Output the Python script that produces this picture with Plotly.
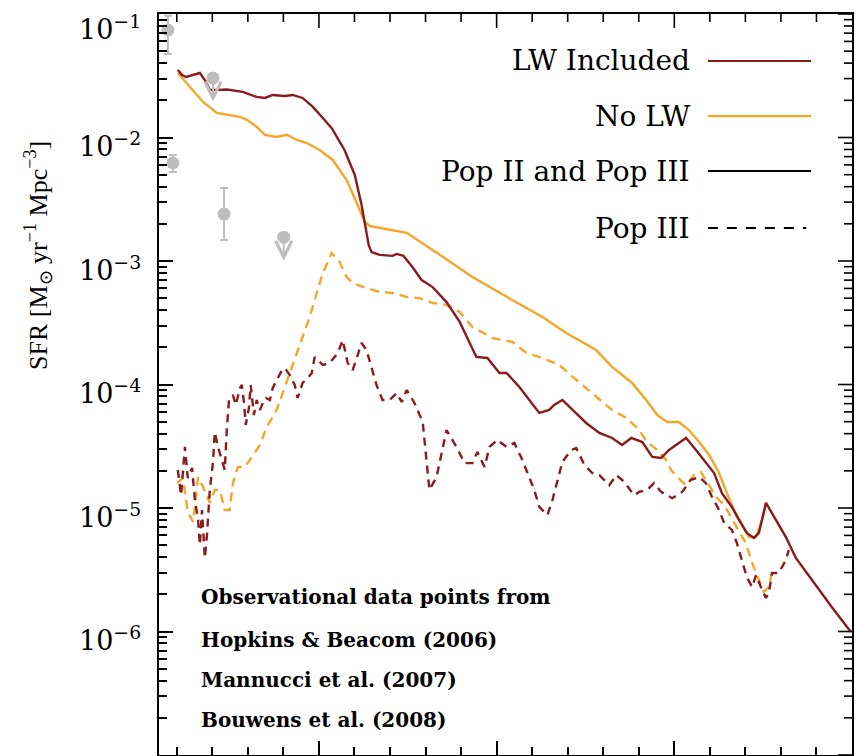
import math
import plotly.graph_objects as go

# ---------------- data ----------------
# Total SFR (Pop II + Pop III), LW feedback included
z_lw = [6.03, 6.15, 6.26, 6.37, 6.57, 6.65, 6.79, 6.93, 7.16, 7.41, 7.86, 8.25, 8.48, 8.70,
        9.04, 9.26, 9.54, 9.83, 10.11, 10.36, 10.72, 11.01, 11.20, 11.31, 11.40, 11.48, 11.71,
        12.07, 12.19, 12.38, 12.63, 12.89, 13.20, 13.59, 13.96, 14.43, 14.74, 15.08, 15.28,
        15.64, 15.92, 16.20, 16.48, 16.62, 16.85, 17.13, 17.52, 17.89, 18.25, 18.53, 18.79,
        19.10, 19.38, 19.63, 19.85, 20.13, 20.33, 20.61, 20.89, 21.12, 21.34, 21.62, 21.82,
        22.04, 22.24, 22.38, 22.58, 22.75, 23.14, 23.42, 23.87, 24.43, 24.97]
sfr_lw = [3.52e-2, 3.21e-2, 3.09e-2, 3.15e-2, 3.27e-2, 3.33e-2, 2.92e-2, 2.43e-2, 2.43e-2,
          2.45e-2, 2.34e-2, 2.13e-2, 2.09e-2, 2.21e-2, 2.17e-2, 2.21e-2, 2.09e-2, 1.77e-2,
          1.44e-2, 1.19e-2, 7.93e-3, 4.97e-3, 2.84e-3, 1.95e-3, 1.35e-3, 1.18e-3, 1.12e-3,
          1.10e-3, 1.14e-3, 1.10e-3, 8.93e-4, 7.01e-4, 6.15e-4, 4.65e-4, 3.21e-4, 1.67e-4,
          1.64e-4, 1.24e-4, 1.24e-4, 9.55e-5, 7.49e-5, 5.88e-5, 6.22e-5, 6.83e-5, 7.49e-5,
          6.22e-5, 4.88e-5, 4.05e-5, 3.69e-5, 3.24e-5, 3.69e-5, 3.42e-5, 2.59e-5, 2.54e-5,
          2.95e-5, 3.36e-5, 3.69e-5, 2.95e-5, 2.31e-5, 1.92e-5, 1.32e-5, 1.02e-5, 8.0e-6,
          6.28e-6, 5.72e-6, 6.28e-6, 1.10e-5, 9.12e-6, 5.82e-6, 3.94e-6, 2.61e-6, 1.58e-6,
          9.9e-7]

# Total SFR without LW feedback
z_nolw = [6.03, 6.37, 6.74, 7.13, 7.49, 7.78, 7.97, 8.25, 8.48, 8.81, 9.10, 9.38, 9.66,
          10.02, 10.39, 10.78, 11.09, 11.29, 11.43, 11.62, 12.47, 13.20, 14.32, 15.44, 16.29,
          16.96, 17.80, 18.25, 18.81, 19.21, 19.52, 19.80, 20.13, 20.41, 20.70, 20.98, 21.26,
          21.48, 21.68, 21.88, 22.10, 22.30, 22.47, 22.58]
sfr_nolw = [3.33e-2, 2.57e-2, 1.94e-2, 1.58e-2, 1.52e-2, 1.47e-2, 1.39e-2, 1.22e-2, 1.05e-2,
            1.01e-2, 1.05e-2, 9.55e-3, 9.02e-3, 7.93e-3, 6.58e-3, 4.53e-3, 2.84e-3, 2.07e-3,
            1.92e-3, 1.88e-3, 1.69e-3, 1.23e-3, 7.42e-4, 4.83e-4, 3.52e-4, 2.61e-4, 1.90e-4,
            1.39e-4, 1.03e-4, 7.49e-5, 5.66e-5, 4.97e-5, 4.97e-5, 4.28e-5, 3.42e-5, 2.69e-5,
            1.92e-5, 1.32e-5, 9.64e-6, 7.57e-6, 5.82e-6, 5.82e-6, 8.0e-6, 1.10e-5]

# Pop III SFR without LW feedback
z_p3_nolw = [6.01, 6.17, 6.31, 6.46, 6.60, 6.74, 6.93, 7.07, 7.21, 7.35, 7.49, 7.58, 7.72,
             7.92, 8.11, 8.34, 8.53, 8.81, 8.98, 9.18, 9.38, 9.54, 9.74, 9.94, 10.11, 10.36,
             10.58, 10.78, 10.95, 11.34, 11.71, 12.07, 12.47, 12.83, 13.20, 13.59, 13.96,
             14.32, 14.88, 15.44, 15.84, 16.29, 16.76, 17.24, 17.80, 18.25, 18.65, 18.96,
             19.24, 19.52, 19.77, 19.91, 20.08, 20.33, 20.56, 20.75, 20.98, 21.17, 21.40,
             21.60, 21.82, 22.01, 22.19, 22.38, 22.52, 22.66, 22.75]
sfr_p3_nolw = [1.59e-5, 1.75e-5, 9.29e-6, 7.71e-6, 1.78e-5, 1.48e-5, 1.10e-5, 1.40e-5,
               1.40e-5, 9.64e-6, 9.64e-6, 1.59e-5, 2.15e-5, 2.15e-5, 2.59e-5, 3.24e-5,
               4.53e-5, 6.22e-5, 8.53e-5, 1.24e-4, 1.80e-4, 2.38e-4, 3.52e-4, 5.51e-4,
               8.0e-4, 1.16e-3, 9.82e-4, 7.42e-4, 6.63e-4, 6.04e-4, 5.61e-4, 5.51e-4,
               5.12e-4, 5.01e-4, 4.57e-4, 4.41e-4, 3.87e-4, 2.92e-4, 2.38e-4, 2.21e-4,
               1.80e-4, 1.64e-4, 1.44e-4, 1.09e-4, 7.92e-5, 6.22e-5, 5.36e-5, 4.45e-5,
               3.42e-5, 2.95e-5, 2.45e-5, 2.03e-5, 1.78e-5, 1.53e-5, 1.85e-5, 1.95e-5,
               1.53e-5, 1.23e-5, 1.06e-5, 8.45e-6, 6.64e-6, 5.21e-6, 3.59e-6, 2.61e-6,
               2.09e-6, 2.29e-6, 3.03e-6]

# Pop III SFR with LW feedback
z_p3_lw = [6.03, 6.12, 6.23, 6.31, 6.43, 6.51, 6.60, 6.65, 6.71, 6.79, 6.85, 6.93, 7.02,
           7.07, 7.16, 7.27, 7.35, 7.41, 7.47, 7.58, 7.66, 7.78, 7.83, 7.89, 7.94, 8.03,
           8.08, 8.17, 8.25, 8.34, 8.42, 8.51, 8.62, 8.70, 8.81, 8.93, 9.04, 9.18, 9.32,
           9.40, 9.54, 9.69, 9.80, 9.88, 10.11, 10.30, 10.53, 10.67, 10.81, 10.95, 11.09,
           11.20, 11.34, 11.48, 11.62, 11.79, 11.99, 12.19, 12.33, 12.47, 12.69, 12.92,
           13.11, 13.31, 13.48, 13.59, 13.87, 14.10, 14.32, 14.46, 14.66, 14.80, 15.02,
           15.28, 15.50, 15.70, 15.87, 16.06, 16.20, 16.43, 16.57, 16.71, 16.85, 17.10,
           17.24, 17.47, 17.69, 17.89, 18.17, 18.37, 18.59, 18.87, 19.01, 19.24, 19.43,
           19.63, 19.94, 20.22, 20.47, 20.70, 20.89, 21.06, 21.26, 21.40, 21.62, 21.76,
           21.90, 22.04, 22.19, 22.30, 22.47, 22.58, 22.66, 22.75, 22.94, 23.14, 23.22]
sfr_p3_lw = [2.03e-5, 1.27e-5, 3.12e-5, 1.75e-5, 2.11e-5, 1.16e-5, 8.0e-6, 5.01e-6,
             9.64e-6, 3.94e-6, 6.04e-6, 1.40e-5, 2.36e-5, 4.12e-5, 3.12e-5, 2.36e-5,
             2.03e-5, 4.45e-5, 7.49e-5, 8.22e-5, 6.83e-5, 9.37e-5, 9.91e-5, 7.21e-5,
             4.70e-5, 6.46e-5, 9.91e-5, 5.66e-5, 7.49e-5, 6.22e-5, 7.08e-5, 7.78e-5,
             7.49e-5, 9.37e-5, 1.09e-4, 1.26e-4, 1.36e-4, 1.19e-4, 9.91e-5, 7.78e-5,
             1.03e-4, 1.13e-4, 1.24e-4, 1.67e-4, 1.44e-4, 1.49e-4, 1.80e-4, 2.29e-4,
             1.49e-4, 1.31e-4, 1.73e-4, 2.17e-4, 1.90e-4, 1.39e-4, 9.91e-5, 7.49e-5,
             7.49e-5, 8.53e-5, 7.21e-5, 9.02e-5, 7.08e-5, 4.97e-5, 1.40e-5, 1.78e-5,
             3.12e-5, 4.28e-5, 3.12e-5, 2.31e-5, 2.31e-5, 2.84e-5, 2.15e-5, 3.12e-5,
             3.56e-5, 3.12e-5, 3.36e-5, 2.54e-5, 1.92e-5, 1.40e-5, 1.02e-5, 8.77e-6,
             1.16e-5, 1.69e-5, 2.36e-5, 2.95e-5, 3.06e-5, 2.23e-5, 1.92e-5, 1.85e-5,
             1.53e-5, 1.85e-5, 1.63e-5, 1.27e-5, 1.35e-5, 1.40e-5, 1.59e-5, 1.35e-5,
             1.20e-5, 1.35e-5, 1.69e-5, 1.78e-5, 1.59e-5, 1.23e-5, 9.64e-6, 7.57e-6,
             6.64e-6, 5.21e-6, 3.79e-6, 2.76e-6, 2.29e-6, 2.86e-6, 2.17e-6, 1.87e-6,
             2.05e-6, 2.98e-6, 2.98e-6, 3.79e-6, 4.57e-6]

# Observational estimates with error bars
obs_z = [5.75, 5.89, 7.33]
obs_sfr = [7.42e-2, 6.22e-3, 2.40e-3]
obs_hi = [9.7e-2, 7.2e-3, 3.90e-3]
obs_lo = [4.74e-2, 5.26e-3, 1.48e-3]

# Observational upper limits
ul_z = [7.02, 9.01]
ul_sfr = [3.03e-2, 1.56e-3]

legend_labels = ["LW Included", "No LW", "Pop II and Pop III", "Pop III"]
obs_notes = ["Observational data points from", "Hopkins & Beacom (2006)",
             "Mannucci et al. (2007)", "Bouwens et al. (2008)"]
y_label_exps = [-6, -5, -4, -3, -2, -1]
y_tick_exps = [-7, -6, -5, -4, -3, -2, -1]

# ---------------- styling ----------------
RED = "#8B1A1C"
ORANGE = "#F4A62A"
GREY = "#BDBDBD"
SERIF = "DejaVu Serif"

X_RANGE = [5.5, 25.0]
LOG_RANGE = [-7.0, -1.0]
PLOT_W, PLOT_H = 693, 741          # plot-area size in pixels
MAJOR_LEN, MINOR_LEN = 14, 8       # tick lengths in pixels
PX_PER_X = PLOT_W / (X_RANGE[1] - X_RANGE[0])
PX_PER_DEC = PLOT_H / (LOG_RANGE[1] - LOG_RANGE[0])

fig = go.Figure()

# observations (under the model curves)
fig.add_trace(go.Scatter(
    x=obs_z, y=obs_sfr, mode="markers",
    marker=dict(symbol="circle", size=13, color=GREY),
    error_y=dict(type="data", symmetric=False,
                 array=[h - v for h, v in zip(obs_hi, obs_sfr)],
                 arrayminus=[v - l for v, l in zip(obs_sfr, obs_lo)],
                 color=GREY, thickness=2, width=4),
    showlegend=False, hoverinfo="skip"))
fig.add_trace(go.Scatter(
    x=ul_z, y=ul_sfr, mode="markers",
    marker=dict(symbol="circle", size=13, color=GREY),
    showlegend=False, hoverinfo="skip"))

ARROW_FACTOR = 1.55
for zz, ss in zip(ul_z, ul_sfr):
    fig.add_annotation(
        x=zz, y=math.log10(ss / ARROW_FACTOR), ax=zz, ay=math.log10(ss),
        xref="x", yref="y", axref="x", ayref="y",
        showarrow=True, arrowhead=5, arrowsize=1.6, arrowwidth=2,
        arrowcolor=GREY, text="")

# model curves
fig.add_trace(go.Scatter(x=z_p3_nolw, y=sfr_p3_nolw, mode="lines",
                         line=dict(color=ORANGE, width=2.4, dash="9px,6px"),
                         showlegend=False, hoverinfo="skip"))
fig.add_trace(go.Scatter(x=z_p3_lw, y=sfr_p3_lw, mode="lines",
                         line=dict(color=RED, width=2.4, dash="8px,6px"),
                         showlegend=False, hoverinfo="skip"))
fig.add_trace(go.Scatter(x=z_nolw, y=sfr_nolw, mode="lines",
                         line=dict(color=ORANGE, width=2.4),
                         showlegend=False, hoverinfo="skip"))
fig.add_trace(go.Scatter(x=z_lw, y=sfr_lw, mode="lines",
                         line=dict(color=RED, width=2.4),
                         showlegend=False, hoverinfo="skip"))

y_major = [10.0 ** e for e in y_tick_exps]
y_minor = [m * 10.0 ** e for e in y_tick_exps[:-1] for m in range(2, 10)]
x_major = [10, 15, 20]
x_minor = [v for v in range(6, 25) if v % 5 != 0]

# mirrored ticks along the top and right edges of the frame
top_x, top_y = [], []
for xv, ln in [(v, MAJOR_LEN) for v in x_major] + [(v, MINOR_LEN) for v in x_minor]:
    top_x += [xv, xv, None]
    top_y += [10.0 ** LOG_RANGE[1], 10.0 ** (LOG_RANGE[1] - ln / PX_PER_DEC), None]
right_x, right_y = [], []
for yv, ln in [(v, MAJOR_LEN) for v in y_major] + [(v, MINOR_LEN) for v in y_minor]:
    right_x += [X_RANGE[1], X_RANGE[1] - ln / PX_PER_X, None]
    right_y += [yv, yv, None]
for tx, ty in [(top_x, top_y), (right_x, right_y)]:
    fig.add_trace(go.Scatter(x=tx, y=ty, mode="lines", connectgaps=False,
                             line=dict(color="black", width=1.6),
                             showlegend=False, hoverinfo="skip", cliponaxis=True))

# hand-made key: text right-aligned, line sample to its right
key_y = [0.9366, 0.8623, 0.7881, 0.7112]
key_style = [(RED, "solid"), (ORANGE, "solid"), ("black", "solid"), ("black", "dash")]
for lab, yy, (col, dsh) in zip(legend_labels, key_y, key_style):
    fig.add_annotation(x=0.769, y=yy, xref="paper", yref="paper", text=lab,
                       showarrow=False, xanchor="right", yanchor="middle",
                       font=dict(family=SERIF, size=28, color="black"))
    fig.add_shape(type="line", xref="paper", yref="paper",
                  x0=0.792, x1=0.941 if dsh == "solid" else 0.934, y0=yy, y1=yy,
                  line=dict(color=col, width=2.2,
                            dash="solid" if dsh == "solid" else "10px,9px"))

note_y = [0.2130, 0.1552, 0.1012, 0.0472]
for txt, yy in zip(obs_notes, note_y):
    fig.add_annotation(x=0.0577, y=yy, xref="paper", yref="paper", text=txt,
                       showarrow=False, xanchor="left", yanchor="middle",
                       font=dict(family=SERIF, size=20, color="black", weight="bold"))

# y-axis title
fig.add_annotation(x=-0.1746, y=0.6734, xref="paper", yref="paper",
                   text="SFR [M<sub>⊙</sub> yr<sup>−1</sup> Mpc<sup>−3</sup>]",
                   textangle=-90, showarrow=False, xanchor="center", yanchor="middle",
                   font=dict(family="Liberation Serif", size=26, color="black"))

# decade labels on the y axis
for e in y_label_exps:
    fig.add_annotation(x=-0.0231, y=e, xref="paper", yref="y",
                       text="10<sup>−%d</sup>" % (-e), showarrow=False,
                       xanchor="right", yanchor="middle",
                       yshift=-13 if e == -1 else -7,
                       font=dict(family=SERIF, size=27, color="black"))

fig.update_layout(
    width=858, height=756,
    margin=dict(l=159, r=6, t=14, b=1),
    paper_bgcolor="white", plot_bgcolor="white",
    showlegend=False,
    xaxis=dict(range=X_RANGE, showticklabels=False, showgrid=False, zeroline=False,
               showline=True, linecolor="black", linewidth=2, mirror=True,
               ticks="inside", tickvals=x_major, ticklen=MAJOR_LEN, tickwidth=1.6,
               tickcolor="black",
               minor=dict(tickvals=x_minor, ticks="inside", ticklen=MINOR_LEN,
                          tickwidth=1.6, tickcolor="black", showgrid=False)),
    yaxis=dict(type="log", range=LOG_RANGE, showticklabels=False, showgrid=False,
               zeroline=False, showline=True, linecolor="black", linewidth=2, mirror=True,
               ticks="inside", tickvals=y_major, ticklen=MAJOR_LEN, tickwidth=1.6,
               tickcolor="black",
               minor=dict(tickvals=y_minor, ticks="inside", ticklen=MINOR_LEN,
                          tickwidth=1.6, tickcolor="black", showgrid=False)),
)

fig.write_html("out.html")
